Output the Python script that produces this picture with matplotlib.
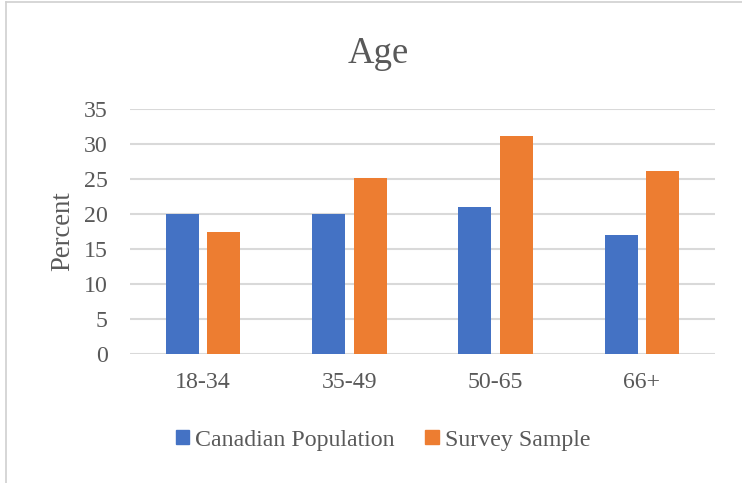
import matplotlib.pyplot as plt
import numpy as np
from matplotlib.patches import Rectangle
from matplotlib.lines import Line2D

# data
categories = ["18-34", "35-49", "50-65", "66+"]
canadian_population = [20, 20, 21, 17]
survey_sample = [17.4, 25.2, 31.2, 26.1]
y_ticks = [0, 5, 10, 15, 20, 25, 30, 35]

BLUE = "#4472C4"
ORANGE = "#ED7D31"
TEXT = "#595959"
GRID = "#D9D9D9"

plt.rcParams["font.family"] = ["Liberation Serif", "DejaVu Serif"]

fig = plt.figure(figsize=(7.42, 4.83), dpi=100)
ax = fig.add_axes([0.1752, 0.267, 0.7884, 0.507])

x = np.arange(len(categories))
w = 0.226
off = 0.142
ax.bar(x - off, canadian_population, width=w, color=BLUE, label="Canadian Population", zorder=3)
ax.bar(x + off, survey_sample, width=w, color=ORANGE, label="Survey Sample", zorder=3)

ax.set_xlim(-0.5, len(categories) - 0.5)
ax.set_ylim(0, 35)
ax.set_yticks(y_ticks)
ax.set_xticks(x)
ax.set_xticklabels(categories)
ax.yaxis.grid(True, color=GRID, linewidth=1.5, zorder=0)
ax.set_axisbelow(True)
for s in ax.spines.values():
    s.set_visible(False)
ax.tick_params(length=0, labelsize=17.2, colors=TEXT)
ax.tick_params(axis="x", pad=13)
ax.tick_params(axis="y", pad=16)
ax.set_ylabel("Percent", fontsize=19.2, color=TEXT, labelpad=6)

# title is centred on the whole chart, not the plot area
fig.text(0.51, 0.87, "Age", fontsize=26.5, color=TEXT, ha="center", va="baseline")

handles = [
    Rectangle((0, 0), 1, 1, color=BLUE),
    Rectangle((0, 0), 1, 1, color=ORANGE),
]
fig.legend(handles, ["Canadian Population", "Survey Sample"], loc="center",
           bbox_to_anchor=(0.516, 0.089), ncol=2, frameon=False, fontsize=17.2,
           labelcolor=TEXT, handlelength=0.55, handleheight=0.55, handletextpad=0.25,
           columnspacing=1.3)

# outer chart frame (only left and top edges visible)
fig.add_artist(Line2D([0.008, 0.008], [0, 0.995], color="#D0D0D0", linewidth=1.2,
                      transform=fig.transFigure))
fig.add_artist(Line2D([0.008, 1.0], [0.995, 0.995], color="#D0D0D0", linewidth=1.2,
                      transform=fig.transFigure))

fig.savefig("out.png", dpi=100)
